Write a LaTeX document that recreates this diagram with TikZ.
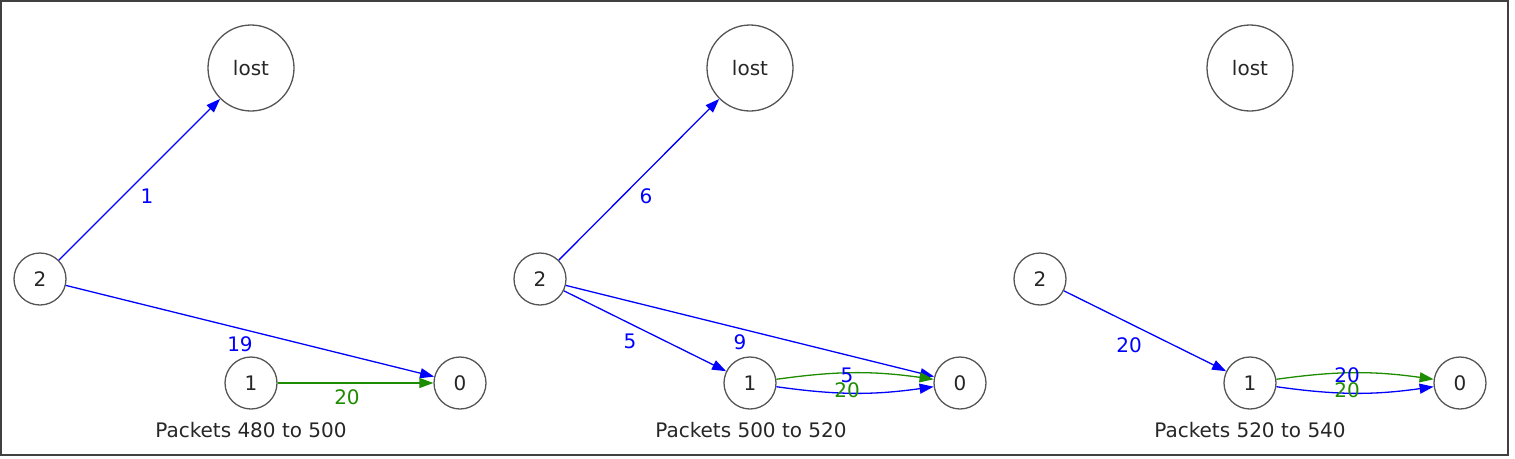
\documentclass[tikz,border=0pt]{standalone}
\usepackage{fontspec}
\setmainfont{DejaVu Sans}
\usetikzlibrary{arrows.meta}

\definecolor{flowgreen}{RGB}{30,140,0}
\definecolor{nodegray}{RGB}{85,85,85}

\tikzset{
    host/.style={circle, draw=nodegray, line width=1.3pt, inner sep=0pt, minimum size=52pt, text=black!85},
    sink/.style={host, minimum size=86pt},
    bluearr/.style={blue, line width=1.3pt, -{Triangle[length=14pt,width=10pt]}},
    greenarr/.style={flowgreen, line width=1.3pt, -{Triangle[length=14pt,width=10pt]}},
    bluelbl/.style={text=blue, inner sep=0pt},
    greenlbl/.style={text=flowgreen, inner sep=0pt},
    caption/.style={text=black!85, inner sep=0pt}
}

\begin{document}
\begin{tikzpicture}[x=1pt, y=1pt, font=\fontsize{20}{24}\selectfont]
    \useasboundingbox (0,0) rectangle (1515,-458);
    \draw[line width=2pt, black!75] (0.5,-1) rectangle (1508,-455);

    % packets 480 to 500
    \node[sink] (lostA) at (251,-68) {lost};
    \node[host] (twoA) at (40,-279) {2};
    \node[host] (oneA) at (251,-383) {1};
    \node[host] (zeroA) at (460,-383) {0};

    \draw[bluearr] (twoA) -- (lostA);
    \draw[bluearr] (twoA) -- (zeroA);
    \draw[greenarr] (oneA) -- (zeroA);

    \node[bluelbl] (lblA1) at (147,-196) {1};
    \node[bluelbl] (lblA2) at (240,-344) {19};
    \node[greenlbl] (lblA3) at (347,-397) {20};
    \node[caption] (capA) at (251,-430) {Packets 480 to 500};

    % packets 500 to 520
    \begin{scope}[xshift=500pt]
        \node[sink] (lostB) at (250,-68) {lost};
        \node[host] (twoB) at (40,-279) {2};
        \node[host] (oneB) at (250,-383) {1};
        \node[host] (zeroB) at (460,-383) {0};

        \draw[bluearr] (twoB) -- (lostB);
        \draw[bluearr] (twoB) -- (oneB);
        \draw[bluearr] (twoB) -- (zeroB);
        \draw[greenarr] (oneB) to[bend left=8] (zeroB);
        \draw[bluearr] (oneB) to[bend right=8] (zeroB);

        \node[bluelbl] (lblB1) at (146,-196) {6};
        \node[bluelbl] (lblB2) at (130,-341) {5};
        \node[bluelbl] (lblB3) at (240,-342) {9};
        \node[bluelbl] (lblB4) at (347,-375) {5};
        \node[greenlbl] (lblB5) at (347,-390) {20};
        \node[caption] (capB) at (251,-430) {Packets 500 to 520};
    \end{scope}

    % packets 520 to 540
    \begin{scope}[xshift=1000pt]
        \node[sink] (lostC) at (250,-68) {lost};
        \node[host] (twoC) at (40,-279) {2};
        \node[host] (oneC) at (250,-383) {1};
        \node[host] (zeroC) at (460,-383) {0};

        \draw[bluearr] (twoC) -- (oneC);
        \draw[greenarr] (oneC) to[bend left=8] (zeroC);
        \draw[bluearr] (oneC) to[bend right=8] (zeroC);

        \node[bluelbl] (lblC1) at (129,-345) {20};
        \node[bluelbl] (lblC2) at (347,-375) {20};
        \node[greenlbl] (lblC3) at (347,-390) {20};
        \node[caption] (capC) at (250,-430) {Packets 520 to 540};
    \end{scope}
\end{tikzpicture}
\end{document}
